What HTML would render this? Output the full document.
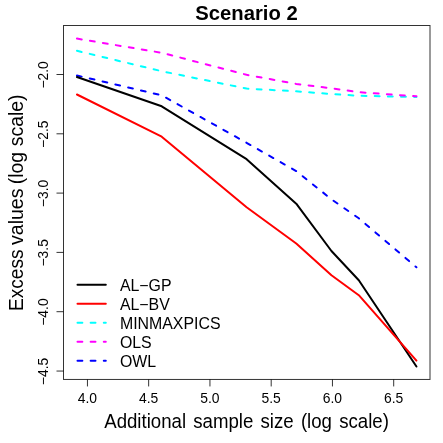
<!DOCTYPE html><html><head><meta charset="utf-8"><title>Scenario 2</title><style>html,body{margin:0;padding:0;background:#fff}svg{display:block;will-change:transform}text{font-family:"Liberation Sans",sans-serif;fill:#000}</style></head><body>
<svg width="443" height="443" viewBox="0 0 443 443">
<rect x="0" y="0" width="443" height="443" fill="#fff"/>
<polyline points="76.95,50.80 161.70,71.20 246.60,88.60 296.25,91.30 331.45,94.10 358.80,95.70 416.45,97.10" fill="none" stroke="#00ffff" stroke-width="2" stroke-linecap="round" stroke-linejoin="round" stroke-dasharray="4.85 8.29"/>
<polyline points="76.95,38.60 161.70,52.80 246.60,74.80 296.25,83.90 331.45,88.30 358.80,92.20 416.45,96.30" fill="none" stroke="#ff00ff" stroke-width="2" stroke-linecap="round" stroke-linejoin="round" stroke-dasharray="4.85 8.29"/>
<polyline points="76.95,75.50 161.70,95.30 246.60,142.80 296.25,171.10 331.45,199.30 358.80,218.30 416.45,267.30" fill="none" stroke="#0000ff" stroke-width="2" stroke-linecap="round" stroke-linejoin="round" stroke-dasharray="4.85 8.29"/>
<polyline points="76.95,77.00 161.70,106.30 246.60,159.20 296.25,203.70 331.45,251.00 358.80,280.30 416.45,366.55" fill="none" stroke="#000000" stroke-width="2" stroke-linecap="round" stroke-linejoin="round"/>
<polyline points="76.95,94.50 161.70,136.70 246.60,207.20 296.25,243.50 331.45,275.30 358.80,295.20 416.45,360.60" fill="none" stroke="#ff0000" stroke-width="2" stroke-linecap="round" stroke-linejoin="round"/>
<rect x="63.5" y="25.5" width="366.5" height="353.95" fill="none" stroke="#000" stroke-width="1" stroke-opacity="0.8"/>
<line x1="87.45" y1="379.45" x2="87.45" y2="386.45" stroke="#000" stroke-width="1" stroke-opacity="0.8"/>
<line x1="148.65" y1="379.45" x2="148.65" y2="386.45" stroke="#000" stroke-width="1" stroke-opacity="0.8"/>
<line x1="209.95" y1="379.45" x2="209.95" y2="386.45" stroke="#000" stroke-width="1" stroke-opacity="0.8"/>
<line x1="271.2" y1="379.45" x2="271.2" y2="386.45" stroke="#000" stroke-width="1" stroke-opacity="0.8"/>
<line x1="332.45" y1="379.45" x2="332.45" y2="386.45" stroke="#000" stroke-width="1" stroke-opacity="0.8"/>
<line x1="393.7" y1="379.45" x2="393.7" y2="386.45" stroke="#000" stroke-width="1" stroke-opacity="0.8"/>
<line x1="63.5" y1="74.5" x2="56.5" y2="74.5" stroke="#000" stroke-width="1" stroke-opacity="0.8"/>
<line x1="63.5" y1="133.8" x2="56.5" y2="133.8" stroke="#000" stroke-width="1" stroke-opacity="0.8"/>
<line x1="63.5" y1="193.1" x2="56.5" y2="193.1" stroke="#000" stroke-width="1" stroke-opacity="0.8"/>
<line x1="63.5" y1="252.4" x2="56.5" y2="252.4" stroke="#000" stroke-width="1" stroke-opacity="0.8"/>
<line x1="63.5" y1="311.7" x2="56.5" y2="311.7" stroke="#000" stroke-width="1" stroke-opacity="0.8"/>
<line x1="63.5" y1="371.05" x2="56.5" y2="371.05" stroke="#000" stroke-width="1" stroke-opacity="0.8"/>
<text x="87.45" y="402.7" font-size="13.9" text-anchor="middle">4.0</text>
<text x="148.65" y="402.7" font-size="13.9" text-anchor="middle">4.5</text>
<text x="209.95" y="402.7" font-size="13.9" text-anchor="middle">5.0</text>
<text x="271.2" y="402.7" font-size="13.9" text-anchor="middle">5.5</text>
<text x="332.45" y="402.7" font-size="13.9" text-anchor="middle">6.0</text>
<text x="393.7" y="402.7" font-size="13.9" text-anchor="middle">6.5</text>
<text transform="translate(47.7,74.9) rotate(-90)" font-size="13.9" text-anchor="middle">−2.0</text>
<text transform="translate(47.7,134.20000000000002) rotate(-90)" font-size="13.9" text-anchor="middle">−2.5</text>
<text transform="translate(47.7,193.5) rotate(-90)" font-size="13.9" text-anchor="middle">−3.0</text>
<text transform="translate(47.7,252.8) rotate(-90)" font-size="13.9" text-anchor="middle">−3.5</text>
<text transform="translate(47.7,312.09999999999997) rotate(-90)" font-size="13.9" text-anchor="middle">−4.0</text>
<text transform="translate(47.7,371.45) rotate(-90)" font-size="13.9" text-anchor="middle">−4.5</text>
<text x="246.5" y="19.5" font-size="20.25" font-weight="bold" text-anchor="middle">Scenario 2</text>
<text transform="translate(104.2,428) scale(0.9275,1)" font-size="20.1" word-spacing="2.2" text-anchor="start">Additional sample size (log scale)</text>
<text transform="translate(23.4,311.04) rotate(-90) scale(0.95,1)" font-size="20.1">Excess</text>
<text transform="translate(23.4,245.0) rotate(-90) scale(0.973,1)" font-size="20.1">values</text>
<text transform="translate(23.4,184.2) rotate(-90) scale(0.96,1)" font-size="20.1">(log</text>
<text transform="translate(23.4,146.18) rotate(-90) scale(0.965,1)" font-size="20.1">scale)</text>
<line x1="77.5" y1="284.75" x2="105.8" y2="284.75" stroke="#000000" stroke-width="2" stroke-linecap="round"/>
<text x="119.9" y="290.65" font-size="15.9">AL−GP</text>
<line x1="77.5" y1="303.7" x2="105.8" y2="303.7" stroke="#ff0000" stroke-width="2" stroke-linecap="round"/>
<text x="119.9" y="309.60" font-size="15.9">AL−BV</text>
<line x1="77.5" y1="322.85" x2="105.8" y2="322.85" stroke="#00ffff" stroke-width="2" stroke-linecap="round" stroke-dasharray="4.85 8.29"/>
<text x="119.9" y="328.75" font-size="15.9">MINMAXPICS</text>
<line x1="77.5" y1="341.8" x2="105.8" y2="341.8" stroke="#ff00ff" stroke-width="2" stroke-linecap="round" stroke-dasharray="4.85 8.29"/>
<text x="119.9" y="347.70" font-size="15.9">OLS</text>
<line x1="77.5" y1="360.75" x2="105.8" y2="360.75" stroke="#0000ff" stroke-width="2" stroke-linecap="round" stroke-dasharray="4.85 8.29"/>
<text x="119.9" y="366.65" font-size="15.9">OWL</text>
</svg></body></html>
